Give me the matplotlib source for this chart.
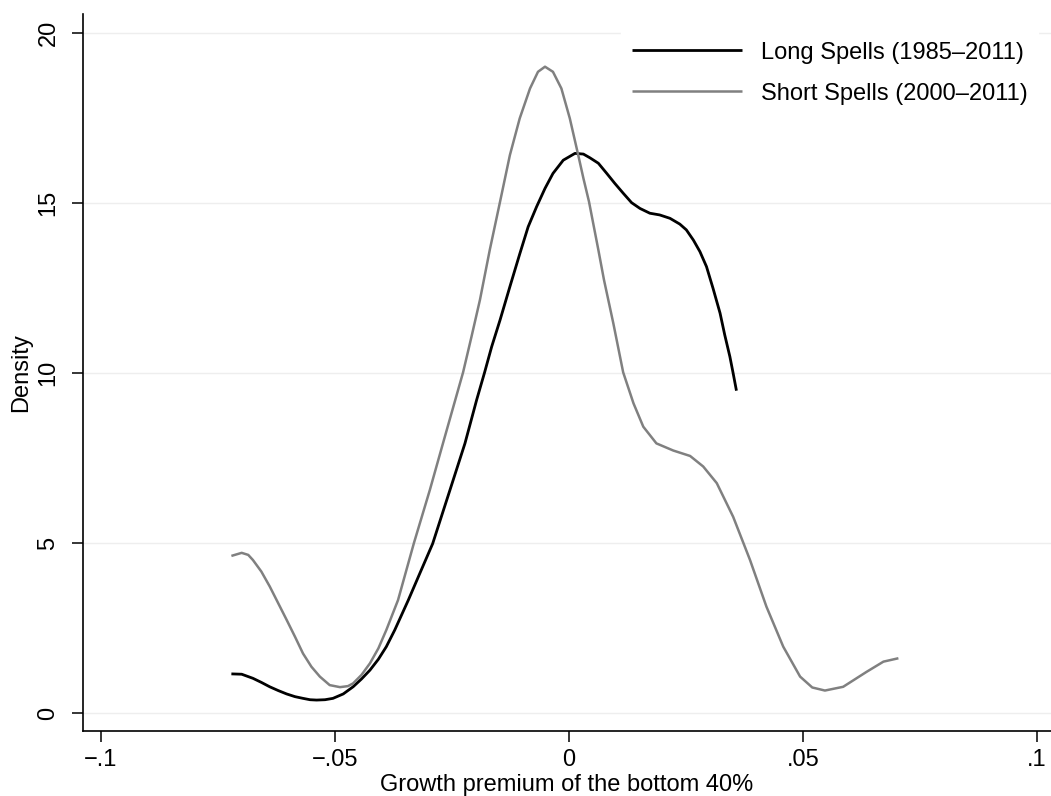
import numpy as np
import matplotlib
matplotlib.use("Agg")
import matplotlib.pyplot as plt

plt.rcParams['font.family'] = ['Liberation Sans', 'DejaVu Sans']

# kernel density curves
long_x = [-0.0721, -0.0699, -0.0675, -0.0657, -0.0639, -0.0621, -0.0603, -0.0585,
          -0.0568, -0.0553, -0.0539, -0.0521, -0.0504, -0.0482, -0.0461, -0.0443,
          -0.0425, -0.0407, -0.0390, -0.0372, -0.0343, -0.0318, -0.0291, -0.0269,
          -0.0254, -0.0222, -0.0197, -0.0180, -0.0165, -0.0147, -0.0126, -0.0105,
          -0.0087, -0.0069, -0.0051, -0.0034, -0.0012, 0.0013, 0.0031, 0.0045,
          0.0063, 0.0081, 0.0098, 0.0116, 0.0134, 0.0152, 0.0173, 0.0194,
          0.0216, 0.0237, 0.0251, 0.0266, 0.0280, 0.0294, 0.0308, 0.0323,
          0.0333, 0.0344, 0.0351, 0.0358]
long_y = [1.15, 1.14, 1.02, 0.90, 0.77, 0.66, 0.56, 0.48,
          0.43, 0.39, 0.38, 0.39, 0.43, 0.56, 0.77, 1.00,
          1.26, 1.58, 1.95, 2.44, 3.32, 4.12, 4.98, 5.92,
          6.56, 7.93, 9.21, 10.02, 10.77, 11.56, 12.54, 13.50,
          14.30, 14.89, 15.43, 15.87, 16.26, 16.46, 16.44, 16.33,
          16.17, 15.87, 15.58, 15.29, 15.01, 14.84, 14.70, 14.65,
          14.55, 14.38, 14.21, 13.91, 13.57, 13.13, 12.49, 11.76,
          11.12, 10.48, 9.99, 9.48]

short_x = [-0.0721, -0.0699, -0.0685, -0.0675, -0.0657, -0.0639, -0.0621, -0.0603,
           -0.0585, -0.0568, -0.0550, -0.0532, -0.0511, -0.0489, -0.0472, -0.0461,
           -0.0443, -0.0425, -0.0407, -0.0390, -0.0365, -0.0331, -0.0297, -0.0269,
           -0.0226, -0.0208, -0.0190, -0.0169, -0.0147, -0.0126, -0.0105,
           -0.0083, -0.0066, -0.0051, -0.0034, -0.0016, 0.0002, 0.0020, 0.0031,
           0.0043, 0.0063, 0.0075, 0.0095, 0.0116, 0.0138, 0.0159, 0.0187,
           0.0223, 0.0259, 0.0287, 0.0316, 0.0351, 0.0387, 0.0422, 0.0458,
           0.0494, 0.0520, 0.0547, 0.0586, 0.0636, 0.0672, 0.0704]
short_y = [4.62, 4.71, 4.65, 4.50, 4.16, 3.72, 3.23, 2.74,
           2.24, 1.75, 1.36, 1.07, 0.82, 0.76, 0.79, 0.87,
           1.12, 1.46, 1.90, 2.44, 3.32, 5.00, 6.56, 7.93,
           10.02, 11.07, 12.15, 13.62, 15.04, 16.41, 17.49,
           18.37, 18.86, 19.01, 18.86, 18.37, 17.49, 16.41, 15.73,
           15.04, 13.62, 12.74, 11.46, 10.02, 9.11, 8.42, 7.93,
           7.72, 7.56, 7.25, 6.76, 5.77, 4.50, 3.13, 1.95,
           1.07, 0.75, 0.66, 0.77, 1.21, 1.51, 1.61]

xticks = [-0.1, -0.05, 0, 0.05, 0.1]
xticklabels = ['\u2212.1', '\u2212.05', '0', '.05', '.1']
yticks = [0, 5, 10, 15, 20]
labels = ['Long Spells (1985\u20132011)', 'Short Spells (2000\u20132011)']

fig = plt.figure(figsize=(10.51, 7.96), dpi=100)
ax = fig.add_axes([83/1051, 65/796, 1 - 83/1051, (731-14)/796])

ax.plot(long_x, long_y, color='black', lw=2.0, label=labels[0],
        solid_capstyle='butt', solid_joinstyle='round')
ax.plot(short_x, short_y, color='#808080', lw=1.8, label=labels[1],
        solid_capstyle='butt', solid_joinstyle='round')

ax.set_xlim(-0.1038, 0.1030)
ax.set_ylim(-0.53, 20.56)
ax.set_xticks(xticks)
ax.set_xticklabels(xticklabels)
ax.set_yticks(yticks)
ax.set_yticklabels([str(v) for v in yticks], rotation=90, va='center')

ax.grid(axis='y', color='#eeeeee', lw=1.0)
ax.set_axisbelow(True)
for s in ['top', 'right']:
    ax.spines[s].set_visible(False)
for s in ['left', 'bottom']:
    ax.spines[s].set_linewidth(1.2)
ax.tick_params(axis='both', length=8, width=1.1, labelsize=17, color='black')
ax.tick_params(axis='x', pad=5)
ax.tick_params(axis='y', pad=9)

ax.set_xlabel('Growth premium of the bottom 40%', fontsize=17, labelpad=2)
ax.set_ylabel('Density', fontsize=17, labelpad=4)

leg = ax.legend(loc='upper left', bbox_to_anchor=(621/1051, 1 - 31/796),
                bbox_transform=fig.transFigure, fontsize=17, frameon=True,
                fancybox=False, edgecolor='white', facecolor='white', framealpha=1,
                handlelength=4.66, handletextpad=0.8, labelspacing=0.8,
                borderpad=0.45, borderaxespad=0)

fig.savefig('out.png', dpi=100)
